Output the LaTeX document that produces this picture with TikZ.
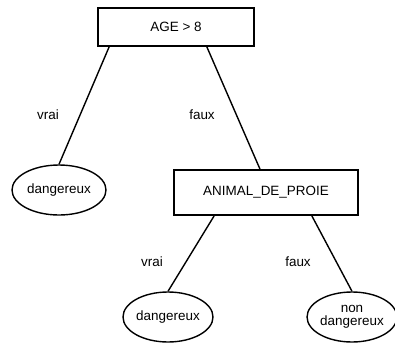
\documentclass[tikz,border=0pt]{standalone}
\usepackage{fontspec}
\setmainfont{Liberation Sans}
\usepackage{tikz}
\usetikzlibrary{shapes.geometric}

\begin{document}
\begin{tikzpicture}[x=1bp, y=-1bp, line width=1.4bp, font=\fontsize{13.5}{15}\selectfont]
			\def \hb{38bp};
			\def \he{50bp};
			\useasboundingbox (0, 0) rectangle (395, 349);
			\node[draw, line width=1.7bp, minimum width=156bp, minimum height=\hb] (age) at (176, 27) {AGE > 8};
			\node[draw, line width=1.7bp, minimum width=184bp, minimum height=45bp] (proie) at (266, 192.5) {ANIMAL\_DE\_PROIE};
			\node[draw, ellipse, inner sep=0pt, minimum width=94bp, minimum height=\he] (dang1) at (59, 190) {dangereux};
			\node[draw, ellipse, inner sep=0pt, minimum width=90bp, minimum height=\he] (dang2) at (168, 317) {dangereux};
			\node[draw, ellipse, inner sep=0pt, minimum width=86bp, minimum height=\he, align=center] (nondang) at (352, 317) {non\\[-2bp]dangereux};
			\draw[] ([xshift=12bp]age.south west) -- (dang1.north);
			\draw[] ([xshift=-48bp]age.south east) -- ([xshift=-6bp]proie.north);
			\draw[] ([xshift=41bp]proie.south west) -- (dang2.north);
			\draw[] ([xshift=-47bp]proie.south east) -- (nondang.north);
			\node[] (vrai1) at (48, 115) {vrai};
			\node[] (faux1) at (202, 115) {faux};
			\node[] (vrai2) at (152, 262) {vrai};
			\node[] (faux2) at (298, 262) {faux};
		\end{tikzpicture}
\end{document}
